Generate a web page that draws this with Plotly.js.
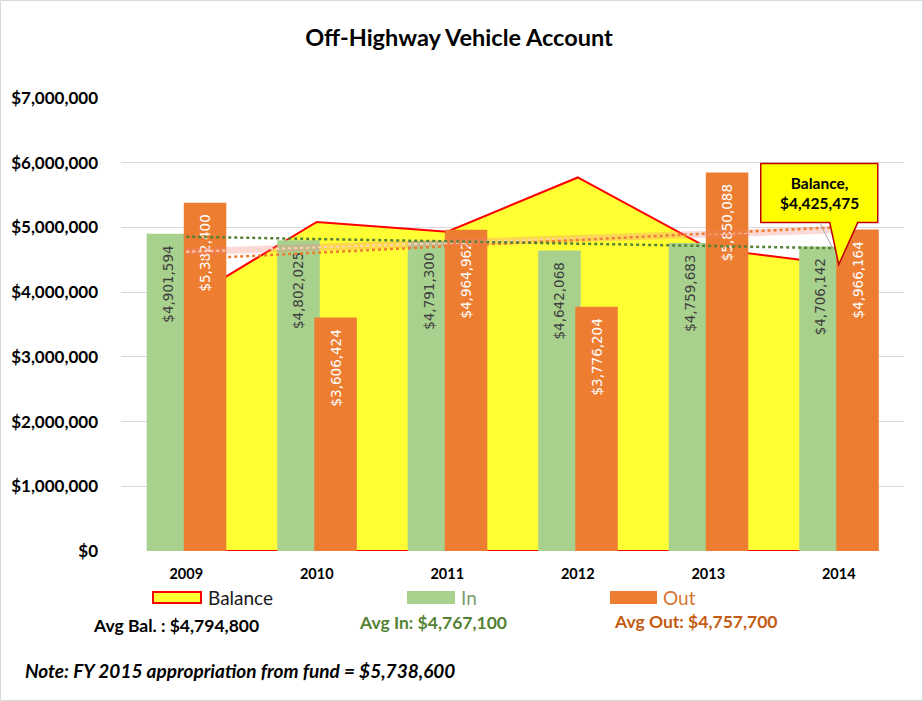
<!DOCTYPE html>
<html><head><meta charset="utf-8">
<script src="https://cdn.plot.ly/plotly-3.0.1.min.js"></script>
<style>html,body{margin:0;padding:0;background:#fff}#chart{width:923px;height:701px}</style>
</head><body><div id="chart"></div>
<script>
// ---- data ----
const years = ['2009', '2010', '2011', '2012', '2013', '2014'];
const balance = [3870000, 5085000, 4935000, 5772000, 4680000, 4425475];
const inflow = [4901594, 4802025, 4791300, 4642068, 4759683, 4706142];
const outflow = [5382400, 3606424, 4964962, 3776204, 5850088, 4966164];
const yTicks = [0, 1000000, 2000000, 3000000, 4000000, 5000000, 6000000, 7000000];
const yTickText = yTicks.map(v => '$' + v.toLocaleString('en-US'));
const seriesNames = ['Balance', 'In', 'Out'];
const titleText = 'Off-Highway Vehicle Account';
const avgTexts = ['Avg Bal. : $4,794,800', 'Avg In: $4,767,100', 'Avg Out: $4,757,700'];
const noteText = 'Note: FY 2015 appropriation from fund = $5,738,600';
const calloutText = '<b>Balance,</b><br><b>$4,425,475</b>';

// linear trendline (least squares on category index), as Excel does
function trend(vals) {
  const n = vals.length; let sx = 0, sy = 0, sxx = 0, sxy = 0;
  vals.forEach((v, i) => { sx += i; sy += v; sxx += i * i; sxy += i * v; });
  const b = (n * sxy - sx * sy) / (n * sxx - sx * sx);
  const a = (sy - b * sx) / n;
  return vals.map((v, i) => a + b * i);
}

// ---- layout geometry ----
const W = 923, H = 701, L = 121, R = 19, T = 98, B = 150;
const pw = W - L - R, ph = H - T - B;
const px = p => (p - L) / pw;
const py = p => (H - B - p) / ph;

const YELLOW = '#FFFF33', RED = '#FF0000', GREEN = '#A9D18E', ORANGE = '#ED7D31';
const lastIdx = years.length - 1;
const LABEL_FONT = 'DejaVu Sans';

const traces = [
  {
    type: 'scatter', mode: 'lines', name: seriesNames[0],
    x: years.concat([years[lastIdx], years[0]]),
    y: balance.concat([0, 0]),
    fill: 'toself', fillcolor: YELLOW,
    line: { color: RED, width: 2 }, zorder: -1, hoverinfo: 'skip'
  },
  {
    type: 'bar', name: seriesNames[1], x: years, y: inflow,
    marker: { color: GREEN }, offset: -0.303, width: 0.326,
    texttemplate: '$%{y:,.0f}\u00A0\u00A0', textposition: 'inside', insidetextanchor: 'end', textangle: -90,
    textfont: { family: LABEL_FONT, size: 13.5, color: '#3F3F3F' }, zorder: 0
  },
  {
    type: 'bar', name: seriesNames[2], x: years, y: outflow,
    marker: { color: ORANGE }, offset: -0.019, width: 0.326,
    texttemplate: '$%{y:,.0f}\u00A0\u00A0', textposition: 'inside', insidetextanchor: 'end', textangle: -90,
    textfont: { family: LABEL_FONT, size: 13.5, color: '#FFFFFF' }, zorder: 0
  },
  {
    type: 'scatter', mode: 'lines', x: years, y: trend(balance),
    line: { color: 'rgba(245,130,130,0.3)', width: 7 }, zorder: 1, hoverinfo: 'skip'
  },
  {
    type: 'scatter', mode: 'lines', x: years, y: trend(balance),
    line: { color: 'rgba(255,215,190,0.95)', width: 2, dash: 'dot' }, zorder: 1, hoverinfo: 'skip'
  },
  {
    type: 'scatter', mode: 'lines', x: years, y: trend(outflow),
    line: { color: ORANGE, width: 2.5, dash: 'dot' }, zorder: 2, hoverinfo: 'skip'
  },
  {
    type: 'scatter', mode: 'lines', x: years, y: trend(inflow),
    line: { color: '#548235', width: 2.5, dash: 'dot' }, zorder: 2, hoverinfo: 'skip'
  }
];

const shapes = [
  // chart border
  { type: 'rect', xref: 'paper', yref: 'paper', x0: px(0.5), x1: px(922.5), y0: py(700.5), y1: py(0.5),
    line: { color: '#D9D9D9', width: 1 }, fillcolor: 'rgba(0,0,0,0)', layer: 'below' },
  // callout bubble anchored at the 2014 balance point (category index)
  { type: 'path', xref: 'x', yref: 'y', xsizemode: 'pixel', ysizemode: 'pixel',
    xanchor: lastIdx, yanchor: balance[lastIdx],
    path: 'M -78 42 L -78 101 L 39 101 L 39 42 L 19 42 L 0 0 L -9 42 Z',
    fillcolor: '#FFFF00', line: { color: '#C00000', width: 1.5 }, layer: 'above' },
  { type: 'line', xref: 'x', yref: 'y', xsizemode: 'pixel', ysizemode: 'pixel',
    xanchor: lastIdx, yanchor: balance[lastIdx], x0: -19, y0: 42, x1: -6, y1: 16,
    line: { color: '#A6A6A6', width: 1 }, layer: 'above' },
  // legend keys
  { type: 'rect', xref: 'paper', yref: 'paper', x0: px(153), x1: px(201), y0: py(603), y1: py(592),
    fillcolor: YELLOW, line: { color: RED, width: 2 } },
  { type: 'rect', xref: 'paper', yref: 'paper', x0: px(407), x1: px(455), y0: py(604), y1: py(591),
    fillcolor: GREEN, line: { width: 0 } },
  { type: 'rect', xref: 'paper', yref: 'paper', x0: px(610), x1: px(657), y0: py(604), y1: py(591),
    fillcolor: ORANGE, line: { width: 0 } }
];

const ann = (text, x, y, font, xanchor) => ({
  text, xref: 'paper', yref: 'paper', x: px(x), y: py(y), xanchor: xanchor || 'left', yanchor: 'middle',
  showarrow: false, font
});

const annotations = [
  { text: calloutText, xref: 'x', yref: 'y', x: lastIdx, y: balance[lastIdx], xshift: -19, yshift: 72,
    xanchor: 'center', yanchor: 'middle',
    showarrow: false, font: { family: 'Lato', size: 15.5, color: '#000' }, align: 'center' },
  ann(seriesNames[0], 206, 597, { family: 'Lato', size: 19, color: '#1A1A1A' }),
  ann(seriesNames[1], 459, 597, { family: 'Lato', size: 19, color: '#7E9C69' }),
  ann(seriesNames[2], 661, 597, { family: 'Lato', size: 19, color: '#D3732F' }),
  ann('<b>' + avgTexts[0] + '</b>', 91, 625, { family: 'Lato', size: 17.5, color: '#000' }),
  ann('<b>' + avgTexts[1] + '</b>', 357, 622, { family: 'Lato', size: 17.5, color: '#548235' }),
  ann('<b>' + avgTexts[2] + '</b>', 612, 621, { family: 'Lato', size: 17.5, color: '#C55A11' }),
  ann('<b><i>' + noteText + '</i></b>', 23, 670, { family: 'Lato', size: 19, color: '#000' })
];

const layout = {
  width: W, height: H,
  margin: { l: L, r: R, t: T, b: B, pad: 0 },
  paper_bgcolor: '#FFFFFF', plot_bgcolor: '#FFFFFF',
  showlegend: false,
  barmode: 'overlay',
  title: {
    text: titleText, xref: 'container', yref: 'container', x: 459 / W, xanchor: 'center',
    y: 1 - 38 / H, yanchor: 'middle',
    font: { family: 'Lato', size: 23.5, weight: 'bold', color: '#000' }
  },
  xaxis: {
    type: 'category', range: [-0.5, 5.5], showgrid: false, zeroline: false,
    showline: true, linecolor: '#D9D9D9', linewidth: 1, ticks: '',
    ticklabelstandoff: 10,
    tickfont: { family: 'Lato', size: 14.5, weight: 'bold', color: '#000' }
  },
  yaxis: {
    range: [0, 7000000], tickmode: 'array', tickvals: yTicks, ticktext: yTickText,
    showgrid: true, gridcolor: '#D9D9D9', gridwidth: 1, zeroline: false, showline: false,
    ticks: '', ticklabelstandoff: 22,
    tickfont: { family: 'Lato', size: 17, weight: 'bold', color: '#000' }
  },
  shapes, annotations
};

Plotly.newPlot('chart', traces, layout, { displayModeBar: false, staticPlot: true });
</script>
</body></html>
